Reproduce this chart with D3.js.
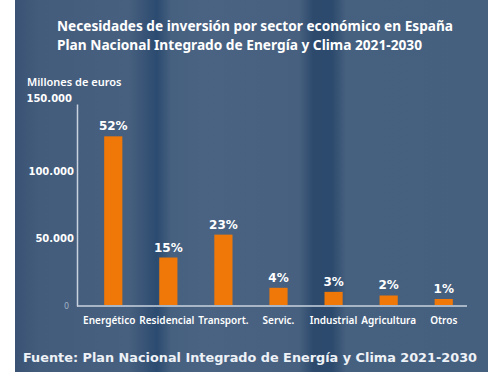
<!DOCTYPE html>
<html>
<head>
<meta charset="utf-8">
<script src="https://cdn.jsdelivr.net/npm/d3@7"></script>
<style>
  body { margin: 0; background: #ffffff; }
  svg { display: block; }
</style>
</head>
<body>
<div id="viz"></div>
<script>
// Sectores y necesidades de inversion (millones de euros)
const sectores = ["Energético", "Residencial", "Transport.", "Servic.", "Industrial", "Agricultura", "Otros"];
const inversion = [126000, 36000, 53000, 13500, 10500, 7800, 5200];
const porcentajes = ["52%", "15%", "23%", "4%", "3%", "2%", "1%"];
const yTicks = [0, 50000, 100000, 150000];

const titulo1 = "Necesidades de inversión por sector económico en España";
const titulo2 = "Plan Nacional Integrado de Energía y Clima 2021-2030";
const unidades = "Millones de euros";
const fuente = "Fuente: Plan Nacional Integrado de Energía y Clima 2021-2030";

const width = 488;
const height = 373;

const data = sectores.map((s, i) => ({ sector: s, valor: inversion[i], pct: porcentajes[i] }));

const svg = d3.select("#viz")
  .append("svg")
  .attr("width", width)
  .attr("height", height);

// fondo azul con bandas verticales
const grad = svg.append("defs")
  .append("linearGradient")
  .attr("id", "fondo")
  .attr("x1", 0).attr("x2", 1).attr("y1", 0).attr("y2", 0);

[
  [0, "#3a5374"], [0.05, "#435c7c"], [0.24, "#47607f"], [0.27, "#3a5577"],
  [0.30, "#2b4b70"], [0.33, "#46607f"], [0.40, "#4a6383"], [0.60, "#47607f"],
  [0.63, "#2d4a6d"], [0.67, "#2c4a6d"], [0.70, "#46607f"], [1, "#45607f"]
].forEach(s => grad.append("stop").attr("offset", s[0]).attr("stop-color", s[1]));

svg.append("rect")
  .attr("x", 15)
  .attr("y", 0)
  .attr("width", width - 15)
  .attr("height", 372)
  .attr("fill", "url(#fondo)");

const x = d3.scaleBand()
  .domain(sectores)
  .range([86, 471])
  .paddingInner(0.67)
  .paddingOuter(0.33);

const y = d3.scaleLinear()
  .domain([0, 150000])
  .range([306, 104]);

// titulos
svg.append("text")
  .attr("x", 57).attr("y", 31)
  .attr("textLength", 396).attr("lengthAdjust", "spacingAndGlyphs")
  .attr("fill", "#ffffff")
  .attr("font-family", "'Noto Sans', sans-serif")
  .attr("font-weight", "bold")
  .attr("font-size", "14px")
  .text(titulo1);

svg.append("text")
  .attr("x", 57).attr("y", 50)
  .attr("textLength", 365).attr("lengthAdjust", "spacingAndGlyphs")
  .attr("fill", "#ffffff")
  .attr("font-family", "'Noto Sans', sans-serif")
  .attr("font-weight", "bold")
  .attr("font-size", "14px")
  .text(titulo2);

svg.append("text")
  .attr("x", 27).attr("y", 86)
  .attr("fill", "#ffffff")
  .attr("font-family", "'Noto Sans', sans-serif")
  .attr("font-weight", 600)
  .attr("font-size", "11px")
  .text(unidades);

// eje y
const yAxis = svg.append("g")
  .attr("transform", "translate(77,0)")
  .call(d3.axisLeft(y).tickValues(yTicks).tickFormat(d => d3.format(",")(d).replace(/,/g, ".")).tickSize(0).tickPadding(3));

yAxis.select(".domain").attr("stroke", "#c9d3df").attr("stroke-width", 1.5);
yAxis.selectAll("text")
  .attr("fill", "#ffffff")
  .attr("font-family", "'DejaVu Sans', sans-serif")
  .attr("font-weight", "bold")
  .attr("font-size", "10px");
yAxis.selectAll(".tick").filter(d => d === 0).select("text")
  .attr("font-size", "8px")
  .attr("font-weight", "normal")
  .attr("fill", "#9fb0c4")
  .attr("x", -8);
yAxis.selectAll(".tick").filter(d => d === 150000).select("text")
  .attr("x", -5)
  .attr("dy", "-0.3em");

// eje x
const xAxis = svg.append("g")
  .attr("transform", `translate(0,${y(0)})`)
  .call(d3.axisBottom(x).tickSize(0).tickPadding(11));

xAxis.select(".domain").remove();
xAxis.selectAll("text")
  .attr("fill", "#ffffff")
  .attr("font-family", "'Noto Sans', sans-serif")
  .attr("font-weight", 600)
  .attr("font-size", "10px");

// las etiquetas no caben centradas: se empujan a la izquierda si se solapan
const ticks = xAxis.selectAll(".tick").nodes();
let limite = Infinity;
for (let i = ticks.length - 1; i >= 0; i--) {
  const t = d3.select(ticks[i]).select("text");
  const w = t.node().getComputedTextLength();
  const cx = x(sectores[i]) + x.bandwidth() / 2;
  let fin = Math.min(cx + w / 2, limite);
  t.attr("x", fin - w / 2 - cx);
  limite = fin - w - 4;
}

svg.append("line")
  .attr("x1", 77).attr("x2", 467)
  .attr("y1", y(0)).attr("y2", y(0))
  .attr("stroke", "#c9d3df")
  .attr("stroke-width", 1.5);

// barras
svg.append("g")
  .selectAll("rect")
  .data(data)
  .join("rect")
  .attr("x", d => x(d.sector))
  .attr("y", d => y(d.valor))
  .attr("width", x.bandwidth())
  .attr("height", d => y(0) - y(d.valor) - 1)
  .attr("fill", "#f07808");

// porcentajes
svg.append("g")
  .selectAll("text")
  .data(data)
  .join("text")
  .attr("x", d => x(d.sector) + x.bandwidth() / 2)
  .attr("y", d => y(d.valor) - 6)
  .attr("text-anchor", "middle")
  .attr("fill", "#ffffff")
  .attr("font-family", "'DejaVu Sans', sans-serif")
  .attr("font-weight", "bold")
  .attr("font-size", "12px")
  .text(d => d.pct);

// fuente
svg.append("text")
  .attr("x", 23).attr("y", 362)
  .attr("textLength", 454).attr("lengthAdjust", "spacingAndGlyphs")
  .attr("fill", "#eef2f7")
  .attr("font-family", "'DejaVu Sans', sans-serif")
  .attr("font-weight", "bold")
  .attr("font-size", "13px")
  .text(fuente);
</script>
</body>
</html>
